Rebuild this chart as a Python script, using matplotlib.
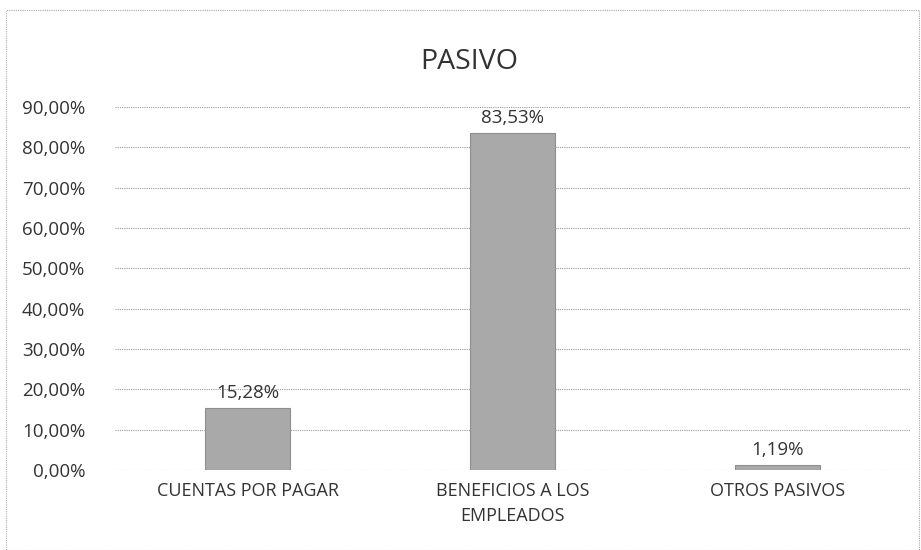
import matplotlib.pyplot as plt
import matplotlib.patches as mpatches
from matplotlib.ticker import FuncFormatter

plt.rcParams['font.family'] = ['Open Sans', 'DejaVu Sans']

# data
categories = ["CUENTAS POR PAGAR", "BENEFICIOS A LOS\nEMPLEADOS", "OTROS PASIVOS"]
values = [15.28, 83.53, 1.19]
yticks = [0, 10, 20, 30, 40, 50, 60, 70, 80, 90]

fig = plt.figure(figsize=(9.21, 5.5), dpi=100)
ax = fig.add_axes([0.125, 0.1455, 0.863, 0.66])

x = list(range(len(categories)))
ax.bar(x, values, width=0.32, color='#a9a9a9', edgecolor='#8f8f8f',
       linewidth=0.8, zorder=3)

for xi, v in zip(x, values):
    ax.text(xi, v + 1.6, f"{v:.2f}%".replace('.', ','), ha='center', va='bottom',
            fontsize=13.5, color='#333333', zorder=4)

ax.set_xlim(-0.5, 2.5)
ax.set_ylim(0, 90)
ax.set_yticks(yticks)
ax.yaxis.set_major_formatter(FuncFormatter(lambda v, p: f"{v:.2f}%".replace('.', ',')))
ax.set_xticks(x)
ax.set_xticklabels(categories, fontsize=13, color='#333333', linespacing=1.45)
ax.tick_params(axis='y', labelsize=13.5, colors='#333333', length=0, pad=21.5)
ax.tick_params(axis='x', length=0, pad=9)
ax.grid(axis='y', color='#999999', linestyle=(0, (1, 1)), linewidth=0.8, zorder=0)
for s in ax.spines.values():
    s.set_visible(False)

fig.text(0.51, 0.887, "PASIVO", ha='center', va='center', fontsize=20.5, color='#333333')

# light dotted frame around the chart area
frame = mpatches.Rectangle((0.007, 0.0), 0.991, 0.981, transform=fig.transFigure,
                           fill=False, edgecolor='#aaaaaa', linestyle=(0, (1, 1)),
                           linewidth=0.8)
fig.patches.append(frame)

fig.savefig("out.png", dpi=100)
